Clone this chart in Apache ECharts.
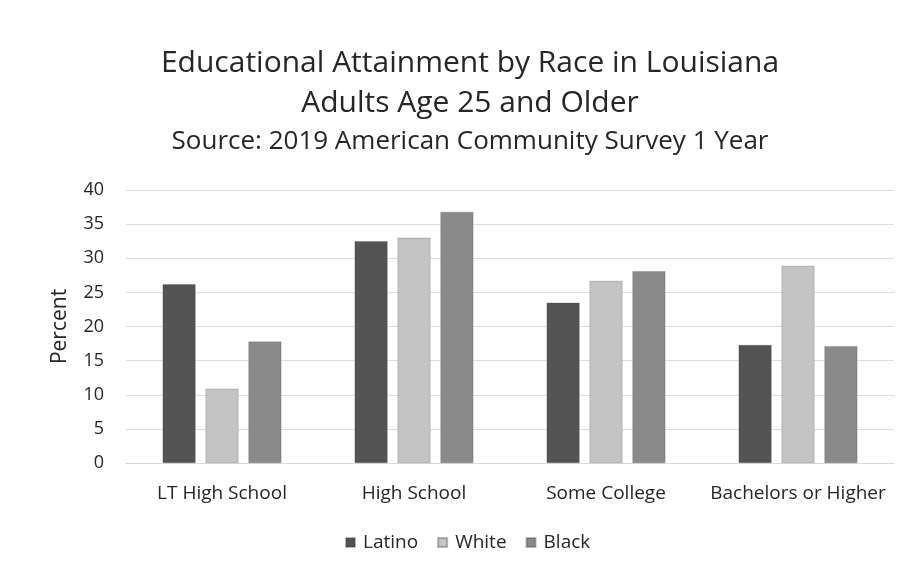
<!DOCTYPE html>
<html>
<head>
<meta charset="utf-8">
<script src="https://cdn.jsdelivr.net/npm/echarts@6/dist/echarts.min.js"></script>
<style>
  html, body { margin: 0; padding: 0; background: #ffffff; }
  #chart { width: 907px; height: 576px; }
</style>
</head>
<body>
<div id="chart"></div>
<script>
// Educational attainment shares (percent), Louisiana adults 25+
const categories = ['LT High School', 'High School', 'Some College', 'Bachelors or Higher'];
const latino = [26.2, 32.5, 23.5, 17.3];
const white  = [10.9, 33.0, 26.7, 28.9];
const black  = [17.8, 36.8, 28.1, 17.1];
const yTicks = { min: 0, max: 40, interval: 5 };

const FONT = '"Open Sans", "Noto Sans", sans-serif';
const TEXT = '#262626';

const chart = echarts.init(document.getElementById('chart'));

function barSeries(name, data, color) {
  return {
    name: name,
    type: 'bar',
    data: data,
    barWidth: 33,
    barGap: '30%',
    itemStyle: { color: color, borderColor: 'rgba(60,60,60,0.35)', borderWidth: 0.6 }
  };
}

// Titles are centred over the plot rather than the page
const titleCenter = 465;

chart.setOption({
  backgroundColor: '#ffffff',
  textStyle: { fontFamily: FONT, color: TEXT },
  title: [
    { text: 'Educational Attainment by Race in Louisiana', left: titleCenter, top: 43,
      textAlign: 'center',
      textStyle: { fontFamily: FONT, fontSize: 30, fontWeight: 'normal', color: TEXT } },
    { text: 'Adults Age 25 and Older', left: titleCenter, top: 83,
      textAlign: 'center',
      textStyle: { fontFamily: FONT, fontSize: 30, fontWeight: 'normal', color: TEXT } },
    { text: 'Source: 2019 American Community Survey 1 Year', left: titleCenter, top: 124,
      textAlign: 'center',
      textStyle: { fontFamily: FONT, fontSize: 26, fontWeight: 'normal', color: TEXT } }
  ],
  legend: {
    bottom: 19,
    left: 340,
    itemWidth: 9,
    itemHeight: 9,
    itemGap: 19,
    icon: 'rect',
    textStyle: { fontFamily: FONT, fontSize: 19, color: TEXT, padding: [0, 0, 0, 3] },
    data: ['Latino', 'White', 'Black']
  },
  grid: { left: 126, right: 13, top: 190, bottom: 113, containLabel: false },
  xAxis: {
    type: 'category',
    data: categories,
    axisLine: { show: true, lineStyle: { color: '#d9d9d9' } },
    axisTick: { show: false },
    axisLabel: { interval: 0, fontFamily: FONT, fontSize: 19, color: TEXT, margin: 21 }
  },
  yAxis: {
    type: 'value',
    min: yTicks.min,
    max: yTicks.max,
    interval: yTicks.interval,
    name: 'Percent',
    nameLocation: 'middle',
    nameGap: 55,
    nameRotate: 90,
    nameTextStyle: { fontFamily: FONT, fontSize: 21, color: TEXT },
    axisLine: { show: false },
    axisTick: { show: false },
    axisLabel: { fontFamily: FONT, fontSize: 18, color: TEXT, margin: 22 },
    splitLine: { lineStyle: { color: '#dedede', width: 1 } }
  },
  series: [
    barSeries('Latino', latino, '#535353'),
    barSeries('White', white, '#c4c4c4'),
    barSeries('Black', black, '#8a8a8a')
  ]
});
</script>
</body>
</html>
